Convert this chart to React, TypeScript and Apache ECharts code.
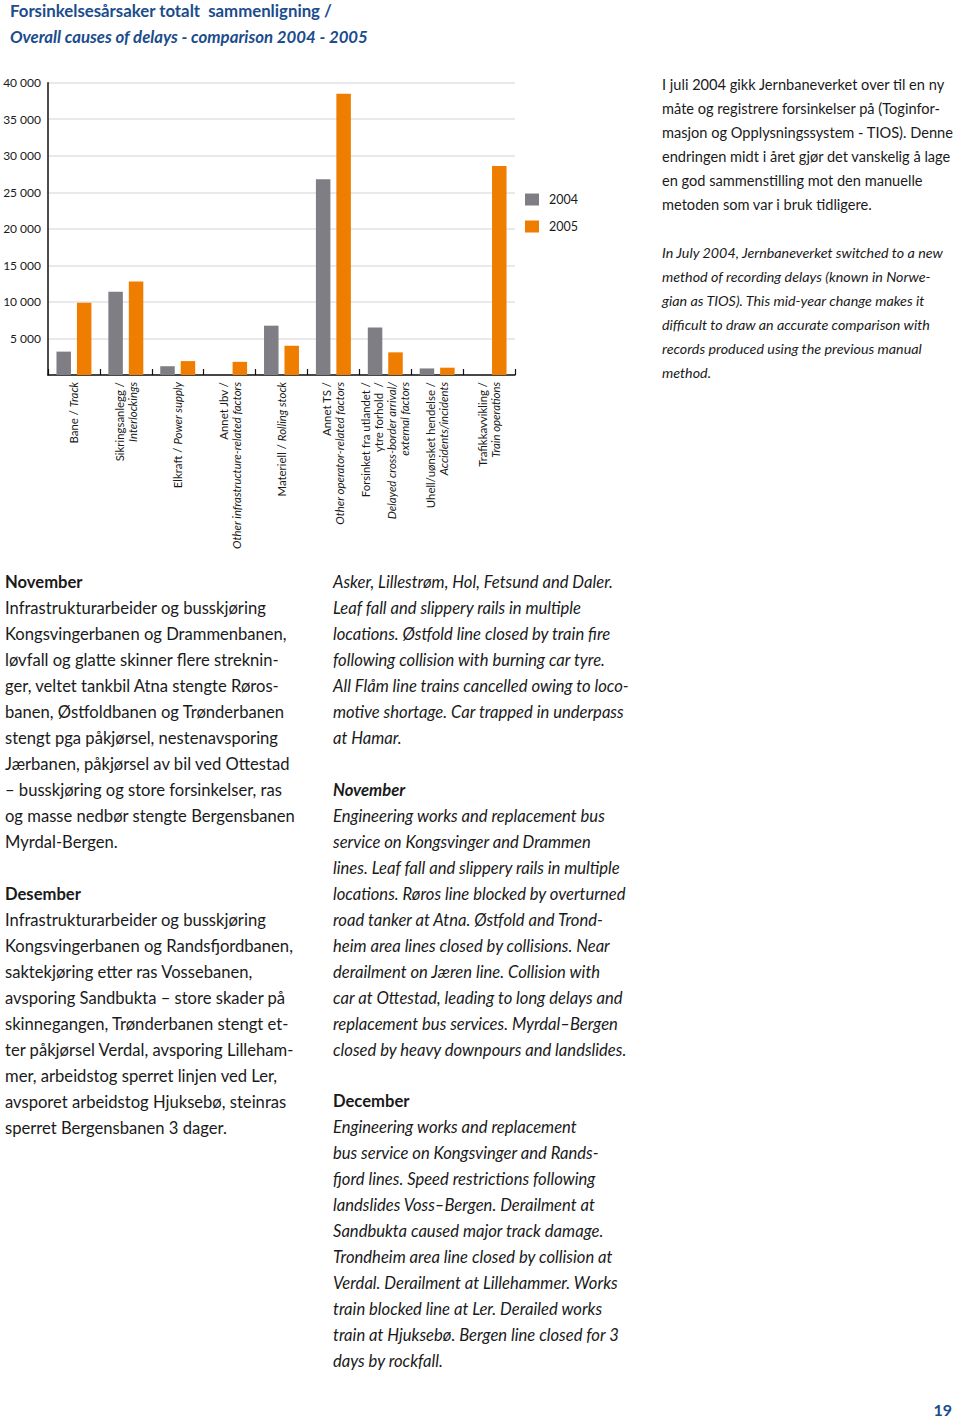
import React, { useEffect, useRef } from "react";
import * as echarts from "echarts";

const categoriesNo = [
  "Bane / ",
  "Sikringsanlegg /",
  "Elkraft / ",
  "Annet Jbv /",
  "Materiell / ",
  "Annet TS /",
  "Forsinket fra utlandet /\nytre forhold  /",
  "Uhell/uønsket hendelse /",
  "Trafikkavvikling /",
];
const categoriesEn = [
  "Track",
  "Interlockings",
  "Power supply",
  "Other infrastructure-related factors",
  "Rolling stock",
  "Other operator-related factors",
  "Delayed cross-border arrival/\nexternal factors",
  "Accidents/incidents",
  "Train operations",
];
const inlineLabel = [true, false, true, false, true, false, false, false, false];

const values2004 = [3200, 11400, 1200, null, 6750, 26800, 6500, 900, null];
const values2005 = [9900, 12800, 1900, 1800, 4000, 38500, 3100, 1000, 28600];

const yTicks = [0, 5000, 10000, 15000, 20000, 25000, 30000, 35000, 40000];

const titleNo = "Forsinkelsesårsaker totalt  sammenligning /";
const titleEn = "Overall causes of delays - comparison 2004 - 2005";

const noteNo = [
  "I juli 2004 gikk Jernbaneverket over til en ny",
  "måte og registrere forsinkelser på (Toginfor-",
  "masjon og Opplysningssystem - TIOS). Denne",
  "endringen midt i året gjør det vanskelig å lage",
  "en god sammenstilling mot den manuelle",
  "metoden som var i bruk tidligere.",
];
const noteEn = [
  "In July 2004, Jernbaneverket switched to a new",
  "method of recording delays (known in Norwe-",
  "gian as TIOS). This mid-year change makes it",
  "difficult to draw an accurate comparison with",
  "records produced using the previous manual",
  "method.",
];

const novNo = [
  "Infrastrukturarbeider og busskjøring",
  "Kongsvingerbanen og Drammenbanen,",
  "løvfall og glatte skinner flere streknin-",
  "ger, veltet tankbil Atna stengte Røros-",
  "banen, Østfoldbanen og Trønderbanen",
  "stengt pga påkjørsel, nestenavsporing",
  "Jærbanen, påkjørsel av bil ved Ottestad",
  "– busskjøring og store forsinkelser, ras",
  "og masse nedbør stengte Bergensbanen",
  "Myrdal-Bergen.",
];
const desNo = [
  "Infrastrukturarbeider og busskjøring",
  "Kongsvingerbanen og Randsfjordbanen,",
  "saktekjøring etter ras Vossebanen,",
  "avsporing Sandbukta – store skader på",
  "skinnegangen, Trønderbanen stengt et-",
  "ter påkjørsel Verdal, avsporing Lilleham-",
  "mer, arbeidstog sperret linjen ved Ler,",
  "avsporet arbeidstog Hjuksebø, steinras",
  "sperret Bergensbanen 3 dager.",
];
const octEn = [
  "Asker, Lillestrøm, Hol, Fetsund and Daler.",
  "Leaf fall and slippery rails in multiple",
  "locations. Østfold line closed by train fire",
  "following collision with burning car tyre.",
  "All Flåm line trains cancelled owing to loco-",
  "motive shortage. Car trapped in underpass",
  "at Hamar.",
];
const novEn = [
  "Engineering works and replacement bus",
  "service on Kongsvinger and Drammen",
  "lines. Leaf fall and slippery rails in multiple",
  "locations. Røros line blocked by overturned",
  "road tanker at Atna. Østfold and Trond-",
  "heim area lines closed by collisions. Near",
  "derailment on Jæren line. Collision with",
  "car at Ottestad, leading to long delays and",
  "replacement bus services. Myrdal–Bergen",
  "closed by heavy downpours and landslides.",
];
const decEn = [
  "Engineering works and replacement",
  "bus service on Kongsvinger and Rands-",
  "fjord lines. Speed restrictions following",
  "landslides Voss–Bergen. Derailment at",
  "Sandbukta caused major track damage.",
  "Trondheim area line closed by collision at",
  "Verdal. Derailment at Lillehammer. Works",
  "train blocked line at Ler. Derailed works",
  "train at Hjuksebø. Bergen line closed for 3",
  "days by rockfall.",
];

const FONT = "Lato";
const BLUE = "#1b4c8c";
const TXT = "#1a1a1a";
const GREY = "#7f7e84";
const ORANGE = "#ef7d00";
const BODY = 16.6;

function block(x: number, yCenter: number, lines: string[], size: number, lh: number, style: string, weight: string) {
  return {
    type: "text",
    x,
    y: yCenter - lh / 2,
    silent: true,
    style: {
      text: lines.join("\n"),
      fontFamily: FONT,
      fontSize: size,
      fontStyle: style,
      fontWeight: weight,
      lineHeight: lh,
      fill: TXT,
      textVerticalAlign: "top",
      verticalAlign: "top",
    },
  };
}

export default function App() {
  const ref = useRef<HTMLDivElement>(null);
  useEffect(() => {
    if (!ref.current) return;
    const chart = echarts.init(ref.current, null, { renderer: "svg" });
    const catLabels = categoriesNo.map((no, i) => {
      if (inlineLabel[i]) return `{n|${no}}{i|${categoriesEn[i]}}`;
      const a = no.split("\n").map((l) => `{n|${l}}`);
      const b = categoriesEn[i].split("\n").map((l) => `{i|${l}}`);
      return a.concat(b).join("\n");
    });
    chart.setOption({
      animation: false,
      textStyle: { fontFamily: FONT },
      title: {
        left: 5,
        top: -8,
        text: `{a|${titleNo}}\n{b|${titleEn}}`,
        textStyle: {
          rich: {
            a: { fontFamily: FONT, fontSize: 16.8, fontWeight: "bold", color: BLUE, lineHeight: 26 },
            b: { fontFamily: FONT, fontSize: 16.8, fontWeight: "bold", fontStyle: "italic", color: BLUE, lineHeight: 26 },
          },
        },
      },
      legend: {
        orient: "vertical",
        left: 525,
        top: 193,
        padding: 0,
        itemWidth: 14,
        itemHeight: 12,
        itemGap: 14,
        icon: "rect",
        data: ["2004", "2005"],
        textStyle: { fontFamily: FONT, fontSize: 12.5, color: TXT, padding: [0, 0, 0, 5] },
      },
      grid: { left: 48, top: 82.7, width: 467, height: 292.3, containLabel: false },
      xAxis: {
        type: "category",
        data: catLabels,
        axisLine: { lineStyle: { color: "#111", width: 1.5 } },
        axisTick: { show: true, inside: true, length: 6, lineStyle: { color: "#111", width: 1.2 } },
        axisLabel: {
          interval: 0,
          rotate: 90,
          margin: 7,
          color: TXT,
          fontFamily: FONT,
          fontSize: 11.4,
          lineHeight: 13,
          rich: {
            n: { fontFamily: FONT, fontSize: 11.4, lineHeight: 13, color: TXT },
            i: { fontFamily: FONT, fontSize: 11.4, lineHeight: 13, color: TXT, fontStyle: "italic" },
          },
        },
      },
      yAxis: {
        type: "value",
        min: yTicks[0],
        max: yTicks[yTicks.length - 1],
        interval: 5000,
        axisLine: { show: true, lineStyle: { color: "#111", width: 1.5 } },
        axisTick: { show: false },
        splitLine: { lineStyle: { color: "#e2e2e2", width: 1.5 } },
        axisLabel: {
          margin: 7,
          color: TXT,
          fontFamily: FONT,
          fontSize: 12,
          formatter: (v: number) => (v === 0 ? "" : String(v).replace(/\B(?=(\d{3})+(?!\d))/g, " ")),
        },
      },
      series: [
        { name: "2004", type: "bar", data: values2004, barWidth: 14.5, barGap: "41%", itemStyle: { color: GREY } },
        { name: "2005", type: "bar", data: values2005, barWidth: 14.5, itemStyle: { color: ORANGE } },
      ],
      graphic: [
        block(662, 84, noteNo, 14.6, 24, "normal", "normal"),
        block(662, 252, noteEn, 14.3, 24, "italic", "normal"),
        block(5, 582, ["November"], BODY, 26, "normal", "bold"),
        block(5, 608, novNo, BODY, 26, "normal", "normal"),
        block(5, 894, ["Desember"], BODY, 26, "normal", "bold"),
        block(5, 920, desNo, BODY, 26, "normal", "normal"),
        block(333, 582, octEn, BODY, 26, "italic", "normal"),
        block(333, 790, ["November"], BODY, 26, "italic", "bold"),
        block(333, 816, novEn, BODY, 26, "italic", "normal"),
        block(333, 1101, ["December"], BODY, 26, "normal", "bold"),
        block(333, 1127, decEn, BODY, 26, "italic", "normal"),
        {
          type: "text",
          right: 8,
          top: 1401,
          silent: true,
          style: { text: "19", fontFamily: FONT, fontSize: 16, fontWeight: "bold", fill: BLUE },
        },
      ],
    });
    return () => chart.dispose();
  }, []);
  return (
    <div
      ref={ref}
      style={{ position: "absolute", left: 0, top: 0, width: 960, height: 1420, background: "#fff" }}
    />
  );
}
